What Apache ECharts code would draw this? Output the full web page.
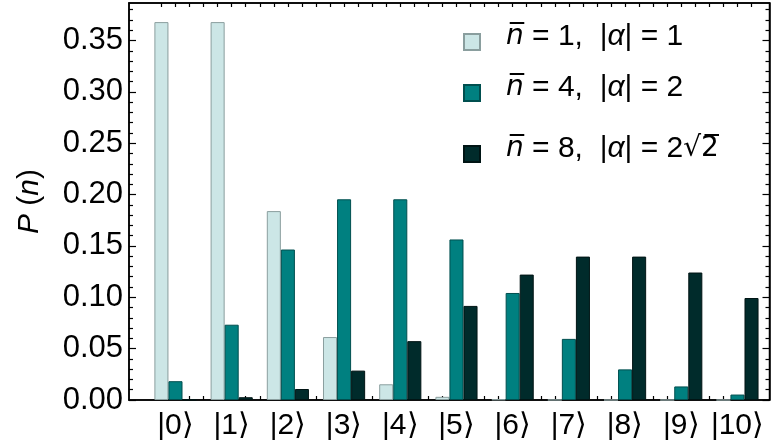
<!DOCTYPE html>
<html>
<head>
<meta charset="utf-8">
<script src="https://cdn.jsdelivr.net/npm/echarts@6/dist/echarts.min.js"></script>
<style>
  html, body { margin: 0; padding: 0; background: #fff; }
  #chart { width: 771px; height: 447px; }
</style>
</head>
<body>
<div id="chart"></div>
<script>
// Photon-number distributions P(n) of coherent states |α⟩
const fockStates = [0, 1, 2, 3, 4, 5, 6, 7, 8, 9, 10];
const probMean1 = [0.3679, 0.3679, 0.1839, 0.0613, 0.0153, 0.0031, 0.0005, 0.0001, 0.0000, 0.0000, 0.0000];
const probMean4 = [0.0183, 0.0733, 0.1465, 0.1954, 0.1954, 0.1563, 0.1042, 0.0595, 0.0298, 0.0132, 0.0053];
const probMean8 = [0.0003, 0.0027, 0.0107, 0.0286, 0.0573, 0.0916, 0.1221, 0.1396, 0.1396, 0.1241, 0.0993];
const yTicks = [0, 0.05, 0.10, 0.15, 0.20, 0.25, 0.30, 0.35];
const seriesNames = ['mean1', 'mean4', 'mean8'];
const legendLabels = {
  mean1: '{nb|n\u0305}{t| = 1,  |}{a|\u03b1}{t|| = 1}',
  mean4: '{nb|n\u0305}{t| = 4,  |}{a|\u03b1}{t|| = 2}',
  mean8: '{nb|n\u0305}{t| = 8,  |}{a|\u03b1}{t|| = 2}{r|\u221a}{r|2\u0305}'
};

const FONT = 'Liberation Sans, Arial, sans-serif';
const fills = ['#cce6e6', '#008080', '#002b2b'];
const borders = ['#8a9e9e', '#004f4f', '#001414'];

// bar sub-slots: each bar is a quarter of the unit spacing between kets
const slotTicks = [];
for (let k = -1; k <= 41; k++) slotTicks.push(k / 4);

const toPairs = arr => fockStates.map((n, i) => [n, arr[i]]);
const seriesData = [probMean1, probMean4, probMean8];

const richText = {
  t: { fontFamily: FONT, fontSize: 30, color: '#000' },
  a: { fontFamily: FONT, fontStyle: 'italic', fontSize: 30, color: '#000' },
  nb: { fontFamily: 'DejaVu Sans', fontStyle: 'italic', fontSize: 28, color: '#000' },
  r: { fontFamily: 'DejaVu Sans', fontSize: 28, color: '#000' }
};

const legendTops = [17, 68, 129];
const legends = seriesNames.map((name, i) => ({
  data: [{ name: name, icon: 'rect' }],
  left: 458,
  top: legendTops[i],
  orient: 'vertical',
  itemWidth: 16,
  itemHeight: 16,
  itemGap: 0,
  selectedMode: false,
  formatter: nm => legendLabels[nm],
  textStyle: { rich: richText, padding: [0, 0, 10, 21] }
}));

const xCommon = {
  type: 'value',
  min: -0.827,
  max: 10.57,
  splitLine: { show: false },
  axisLine: { show: true, onZero: false, lineStyle: { color: '#000', width: 1.5 } },
  axisTick: { show: true, inside: true, length: 4, customValues: slotTicks, lineStyle: { color: '#000', width: 1.2 } }
};

const yCommon = {
  type: 'value',
  min: 0,
  max: 0.3865,
  interval: 0.05,
  splitLine: { show: false },
  axisLine: { show: true, onZero: false, lineStyle: { color: '#000', width: 1.5 } },
  axisTick: { show: true, inside: true, length: 7, customValues: yTicks, lineStyle: { color: '#000', width: 1.2 } },
  minorTick: { show: true, splitNumber: 5, length: 4, lineStyle: { color: '#000', width: 1.2 } }
};

const chart = echarts.init(document.getElementById('chart'), null, { renderer: 'canvas' });
chart.setOption({
  animation: false,
  backgroundColor: '#fff',
  grid: {
    left: 129, right: 1.5, top: 3, bottom: 47, containLabel: false,
    show: true, borderColor: '#000', borderWidth: 1.5, backgroundColor: 'transparent'
  },
  legend: legends,
  xAxis: [
    Object.assign({}, xCommon, {
      position: 'bottom',
      axisLabel: {
        show: true,
        customValues: fockStates,
        formatter: v => '|' + v + '\u27e9',
        fontFamily: FONT,
        fontSize: 30,
        color: '#000',
        margin: 11
      }
    }),
    Object.assign({}, xCommon, { position: 'top', axisLabel: { show: false } })
  ],
  yAxis: [
    Object.assign({}, yCommon, {
      position: 'left',
      name: '{i|P} ({i|n})',
      nameLocation: 'middle',
      nameGap: 84,
      nameRotate: 90,
      nameTextStyle: {
        fontFamily: FONT, fontSize: 30, color: '#000',
        rich: { i: { fontFamily: FONT, fontStyle: 'italic', fontSize: 30, color: '#000' } }
      },
      axisLabel: {
        show: true,
        customValues: yTicks,
        formatter: v => v.toFixed(2),
        fontFamily: FONT,
        fontSize: 31,
        color: '#000',
        margin: 6
      }
    }),
    Object.assign({}, yCommon, { position: 'right', axisLabel: { show: false } })
  ],
  series: seriesNames.map((name, i) => ({
    name: name,
    type: 'bar',
    xAxisIndex: 0,
    yAxisIndex: 0,
    barWidth: '25%',
    barGap: '0%',
    data: toPairs(seriesData[i]),
    itemStyle: { color: fills[i], borderColor: borders[i], borderWidth: 1 }
  }))
});
</script>
</body>
</html>
